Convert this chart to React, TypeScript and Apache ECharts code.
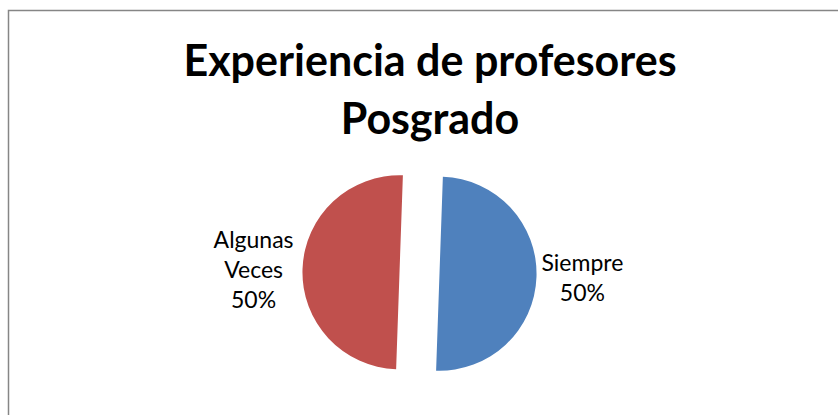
import React, { useEffect, useRef } from "react";
import * as echarts from "echarts";

const titleLines = ["Experiencia de profesores", "Posgrado"];
const categories = ["Siempre", "Algunas Veces"];
const values = [50, 50];
const colors = ["#4F81BD", "#C0504D"];

export default function App() {
  const ref = useRef<HTMLDivElement>(null);
  useEffect(() => {
    if (!ref.current) return;
    const chart = echarts.init(ref.current, null, { renderer: "svg" });
    chart.setOption({
      animation: false,
      backgroundColor: "#ffffff",
      graphic: [
        {
          type: "rect",
          shape: { x: 8.5, y: 10.5, width: 860, height: 430 },
          style: { fill: "none", stroke: "#868686", lineWidth: 1.5 },
          silent: true,
          z: -1,
        },
        {
          type: "text",
          x: 430,
          y: 30,
          silent: true,
          style: {
            text: titleLines.join("\n"),
            align: "center",
            verticalAlign: "top",
            fontFamily: "Lato",
            fontWeight: "bold",
            fontSize: 43,
            lineHeight: 58,
            fill: "#000000",
          },
        },
      ],
      series: [
        {
          type: "pie",
          center: [419.5, 273],
          radius: 97,
          startAngle: 88,
          clockwise: true,
          selectedMode: "multiple",
          selectedOffset: 20,
          emphasis: { disabled: true },
          label: {
            show: true,
            position: "outside",
            fontFamily: "Lato",
            fontSize: 23,
            lineHeight: 30,
            color: "#000000",
            formatter: (p: any) =>
              p.name.replace(" ", "\n") + "\n" + Math.round(p.percent) + "%",
          },
          labelLine: { show: false, length: 0.01, length2: 0.01 },
          labelLayout: (p: any) => ({
            align: "center",
            dx:
              p.align === "left"
                ? p.labelRect.width / 2
                : p.align === "right"
                ? -p.labelRect.width / 2
                : 0,
          }),
          itemStyle: { borderWidth: 0 },
          data: categories.map((c, i) => ({
            name: c,
            value: values[i],
            selected: true,
            itemStyle: { color: colors[i] },
            labelLine:
              i === 0
                ? { show: false, length: 0.01, length2: 0.01 }
                : { show: false, length: 2, length2: 2 },
          })),
        },
      ],
    });
    return () => chart.dispose();
  }, []);
  return (
    <div
      ref={ref}
      style={{ position: "fixed", left: 0, top: 0, width: 838, height: 415 }}
    />
  );
}
